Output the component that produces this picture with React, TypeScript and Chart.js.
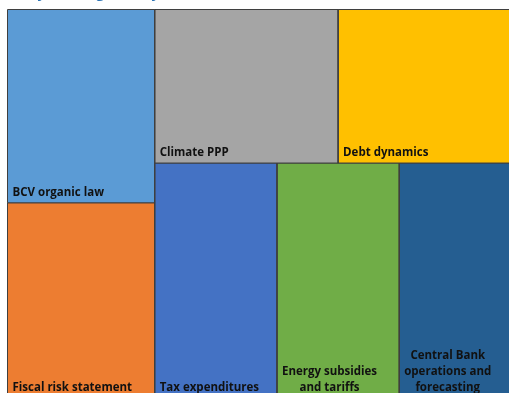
import React, { useEffect, useRef } from "react";
import { Chart, registerables } from "chart.js";

Chart.register(...registerables);

const TITLE = "Key Fund agenda by area";
const categories: string[][] = [
  ["BCV organic law"],
  ["Fiscal risk statement"],
  ["Climate PPP"],
  ["Debt dynamics"],
  ["Tax expenditures"],
  ["Energy subsidies", "and tariffs"],
  ["Central Bank", "operations and", "forecasting"],
];
const values: number[] = [99, 100, 98, 98, 100, 100, 100];
const colors: string[] = ["#5B9BD5", "#ED7D31", "#A5A5A5", "#FFC000", "#4472C4", "#70AD47", "#255E91"];

const CANVAS_W = 530;
const CANVAS_H = 430;
const PAD = { left: 7.5, right: 8.5, top: 33.5, bottom: 8 };
const W = CANVAS_W - PAD.left - PAD.right;
const H = CANVAS_H - PAD.top - PAD.bottom;

type Rect = { x0: number; y0: number; x1: number; y1: number };

function worst(row: number[], side: number): number {
  const s = row.reduce((a, b) => a + b, 0);
  const mx = Math.max(...row);
  const mn = Math.min(...row);
  return Math.max((side * side * mx) / (s * s), (s * s) / (side * side * mn));
}

function squarify(vals: number[], w: number, h: number): Rect[] {
  const total = vals.reduce((a, b) => a + b, 0);
  const areas = vals.map((v) => (v / total) * w * h);
  const out: Rect[] = [];
  let x = 0, y = 0, rw = w, rh = h;
  let i = 0;
  while (i < areas.length) {
    const side = Math.min(rw, rh);
    const row = [areas[i]];
    let j = i + 1;
    while (j < areas.length) {
      const next = [...row, areas[j]];
      if (worst(next, side) < worst(row, side)) {
        row.push(areas[j]);
        j++;
      } else break;
    }
    const s = row.reduce((a, b) => a + b, 0);
    if (rw >= rh) {
      const cw = s / rh;
      let cy = y;
      row.forEach((a) => {
        const hh = a / cw;
        out.push({ x0: x, y0: cy, x1: x + cw, y1: cy + hh });
        cy += hh;
      });
      x += cw;
      rw -= cw;
    } else {
      const ch = s / rw;
      let cx = x;
      row.forEach((a) => {
        const ww = a / ch;
        out.push({ x0: cx, y0: y, x1: cx + ww, y1: y + ch });
        cx += ww;
      });
      y += ch;
      rh -= ch;
    }
    i = j;
  }
  return out;
}

const LABEL_FONT = "bold 11.5px 'Open Sans'";

function makeLabelPlugin(rects: Rect[]) {
  return {
    id: "treeLabels",
    afterDatasetsDraw(chart: any) {
      const { ctx, scales } = chart;
      ctx.save();
      ctx.font = LABEL_FONT;
      ctx.fillStyle = "#111111";
      ctx.textBaseline = "middle";
      ctx.textAlign = "center";
      rects.forEach((r, k) => {
        const left = scales.x.getPixelForValue(r.x0);
        const bottom = scales.y.getPixelForValue(r.y1);
        const lines = categories[k];
        const bw = Math.max(...lines.map((l) => ctx.measureText(l).width));
        const cx = left + 5 + bw / 2;
        const lh = 16;
        lines.forEach((l, n) => {
          const yy = bottom - 10 - (lines.length - 1 - n) * lh;
          ctx.fillText(l, cx, yy);
        });
      });
      ctx.restore();
    },
    afterDraw(chart: any) {
      const { ctx } = chart;
      ctx.save();
      ctx.font = "bold 14px 'Open Sans'";
      ctx.fillStyle = "#2F75B5";
      ctx.textBaseline = "alphabetic";
      ctx.textAlign = "left";
      ctx.fillText(TITLE, 20, 22);
      ctx.restore();
    },
  };
}

export default function App() {
  const ref = useRef<HTMLCanvasElement | null>(null);
  useEffect(() => {
    if (!ref.current) return;
    const rects = squarify(values, W, H);
    const datasets = rects.map((r, k) => ({
      label: categories[k].join(" "),
      data: [
        { x: r.x0, y: r.y0 },
        { x: r.x1, y: r.y0 },
        { x: r.x1, y: r.y1 },
        { x: r.x0, y: r.y1 },
        { x: r.x0, y: r.y0 },
      ],
      showLine: true,
      fill: "shape",
      backgroundColor: colors[k],
      borderColor: "#3F3F3F",
      borderWidth: 1,
      pointRadius: 0,
      pointHoverRadius: 0,
      tension: 0,
      clip: false,
    }));
    const chart: any = new Chart(ref.current, {
      type: "scatter",
      data: { datasets } as any,
      options: {
        animation: false,
        responsive: false,
        events: [],
        layout: { padding: PAD },
        scales: {
          x: { type: "linear", display: false, min: 0, max: W },
          y: { type: "linear", display: false, min: 0, max: H, reverse: true },
        },
        plugins: {
          legend: { display: false },
          tooltip: { enabled: false },
          title: { display: false },
        },
      } as any,
      plugins: [makeLabelPlugin(rects)],
    });
    return () => chart.destroy();
  }, []);
  return (
    <div style={{ position: "fixed", left: 0, top: 0, width: 509, height: 393, overflow: "hidden", background: "#fff" }}>
      <canvas
        ref={ref}
        width={CANVAS_W}
        height={CANVAS_H}
        style={{ position: "absolute", left: 0, top: -24, width: CANVAS_W, height: CANVAS_H }}
      />
    </div>
  );
}
